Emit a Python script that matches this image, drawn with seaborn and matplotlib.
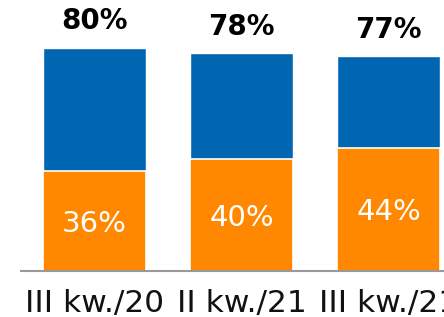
import matplotlib
matplotlib.use("Agg")
import pandas as pd
import seaborn as sns
from matplotlib import pyplot as plt

quarters = ["III kw./20", "II kw./21", "III kw./21"]
total_pct = [80, 78, 77]
orange_pct = [36, 40, 44]

BLUE = "#0066b2"
ORANGE = "#ff8800"

df = pd.DataFrame({"quarter": quarters, "total": total_pct, "orange": orange_pct})

sns.set_style("white")
plt.rcParams["font.family"] = ["DejaVu Sans"]

fig = plt.figure(figsize=(4.44, 3.17), dpi=100)
ax = fig.add_axes([21 / 444, 46 / 317, 441 / 444, 251 / 317])

sns.barplot(df, x="quarter", y="total", color=BLUE, width=0.7, saturation=1, ax=ax)
sns.barplot(df, x="quarter", y="orange", color=ORANGE, width=0.7, saturation=1,
            edgecolor="white", linewidth=1.2, ax=ax)

for i, (t, o) in enumerate(zip(total_pct, orange_pct)):
    ax.text(i, t + 4.5, f"{t}%", ha="center", va="bottom",
            fontsize=20, fontweight="bold", color="black")
    ax.text(i, o / 2 - 1, f"{o}%", ha="center", va="center",
            fontsize=21, color="white")

ax.set_xlim(-0.5, 2.5)
ax.set_ylim(0, 90)
ax.set_xlabel("")
ax.set_ylabel("")
ax.set_yticks([])
sns.despine(ax=ax, left=True)
ax.spines["bottom"].set_color("#999999")
ax.spines["bottom"].set_linewidth(1.5)
ax.tick_params(axis="x", length=0, pad=13, labelsize=22.5, labelcolor="#111111")

fig.savefig("out.png", dpi=100)
